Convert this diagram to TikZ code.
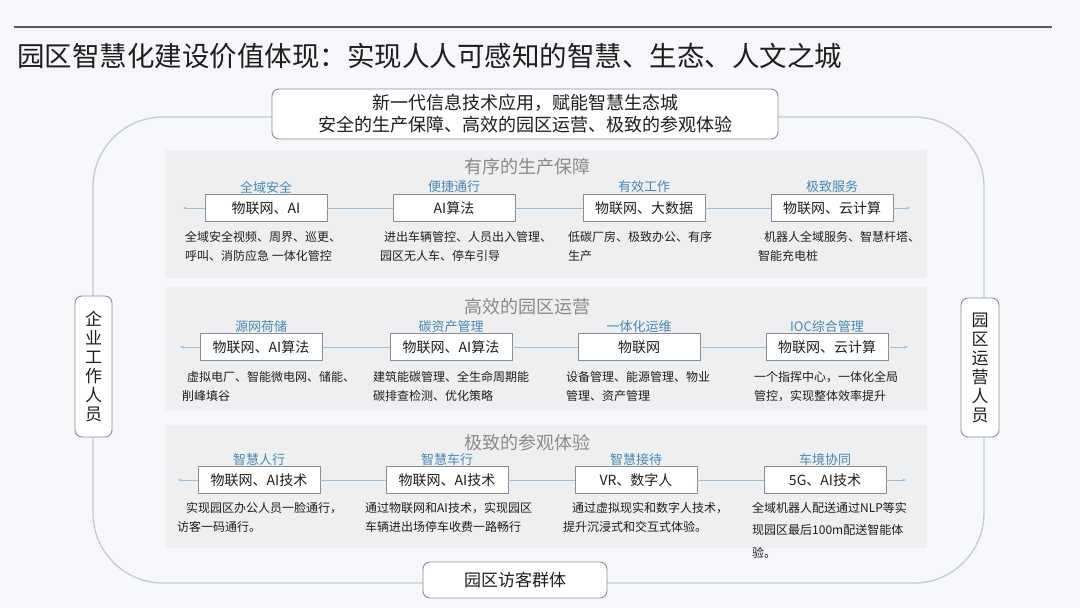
\documentclass[tikz,border=0pt]{standalone}
\usepackage{fontspec}
\setmainfont{Noto Sans CJK SC}
\usetikzlibrary{arrows.meta}
\definecolor{bgc}{HTML}{F6F7FA}
\definecolor{panelc}{HTML}{EEEFF1}
\definecolor{outc}{HTML}{C6CAD0}
\definecolor{boxc}{HTML}{8A8E94}
\definecolor{labc}{HTML}{4A88AE}
\definecolor{ptc}{HTML}{8A8A8A}
\definecolor{arrc}{HTML}{A9BCCD}
\definecolor{txtc}{HTML}{1E1E1E}
\tikzset{
  techbox/.style={draw=boxc, line width=0.8pt, fill=white, minimum width=122pt, minimum height=27pt, inner sep=0pt, font=\fontsize{14}{16}\selectfont, text=txtc},
  catlab/.style={font=\fontsize{13}{15}\selectfont, text=labc, inner sep=0pt},
  ptitle/.style={font=\fontsize{18}{20}\selectfont, text=ptc, inner sep=0pt},
  desc/.style={font=\fontsize{12}{19}\selectfont, text=txtc, align=left, anchor=north west, inner sep=0pt},
  panel/.style={fill=panelc, draw=none},
  arrline/.style={draw=arrc, line width=1pt},
  arrtip/.style={-{Stealth[length=4pt,width=3pt]}},
  rolebox/.style={draw=boxc, line width=0.9pt, fill=white, rounded corners=7pt, inner sep=0pt, text=txtc},
}
\begin{document}
\begin{tikzpicture}[x=1pt,y=-1pt]
\useasboundingbox (0,0) rectangle (1080,608);
\fill[bgc] (0,0) rectangle (1080,608);
% top rule and title
\draw[line width=2.5pt, draw=black!65] (14,27) -- (1052,27);
\node[anchor=west, inner sep=0pt, font=\fontsize{27.5}{30}\selectfont, text=txtc] (title) at (17,56) {园区智慧化建设价值体现：实现人人可感知的智慧、生态、人文之城};
% big outline
\draw[draw=outc, line width=1.3pt, rounded corners=70pt] (93,117) rectangle (984,583);
% panels
\fill[panel] (165,150) rectangle (927,278);
\fill[panel] (165,287) rectangle (927,411);
\fill[panel] (165,425) rectangle (927,548);
% top box
\node[rolebox, minimum width=506pt, minimum height=50pt, align=center, font=\fontsize{18}{22}\selectfont] (top) at (525,114) {新一代信息技术应用，赋能智慧生态城\\安全的生产保障、高效的园区运营、极致的参观体验};
% role boxes
\node[rolebox, minimum width=37pt, minimum height=141pt, align=center, font=\fontsize{17}{19}\selectfont] (left) at (93.5,366.5) {企\\业\\工\\作\\人\\员};
\node[rolebox, minimum width=38pt, minimum height=139pt, align=center, font=\fontsize{17}{19}\selectfont] (right) at (980,367.5) {园\\区\\运\\营\\人\\员};
\node[rolebox, minimum width=184pt, minimum height=36pt, font=\fontsize{17}{19}\selectfont] (bottom) at (515,580) {园区访客群体};
% panel titles
\node[ptitle] (pt1) at (527,167) {有序的生产保障};
\node[ptitle] (pt2) at (527,307) {高效的园区运营};
\node[ptitle] (pt3) at (527,443) {极致的参观体验};
% row 1
\coordinate (l1) at (183,208);
\coordinate (r1) at (910,208);
\node[techbox] (b11) at (266,208) {物联网、AI};
\node[techbox] (b12) at (454,208) {AI算法};
\node[techbox] (b13) at (644,208) {物联网、大数据};
\node[techbox] (b14) at (832,208) {物联网、云计算};
\draw[arrline, arrtip] (b11.west) -- (l1);
\draw[arrline] (b11) -- (b12);
\draw[arrline] (b12) -- (b13);
\draw[arrline] (b13) -- (b14);
\draw[arrline, arrtip] (b14.east) -- (r1);
\node[catlab] (c11) at (266,187) {全域安全};
\node[catlab] (c12) at (454,187) {便捷通行};
\node[catlab] (c13) at (644,187) {有效工作};
\node[catlab] (c14) at (832,187) {极致服务};
\node[desc] (d11) at (185,231) {全域安全视频、周界、巡更、\\呼叫、消防应急 一体化管控};
\node[desc] (d12) at (380,231) {\hspace*{4pt}进出车辆管控、人员出入管理、\\园区无人车、停车引导};
\node[desc] (d13) at (568,231) {低碳厂房、极致办公、有序\\生产};
\node[desc] (d14) at (758,231) {\hspace*{6pt}机器人全域服务、智慧杆塔、\\智能充电桩};
% row 2
\coordinate (l2) at (180,347);
\coordinate (r2) at (908,347);
\node[techbox] (b21) at (261,347) {物联网、AI算法};
\node[techbox] (b22) at (451,347) {物联网、AI算法};
\node[techbox] (b23) at (639,347) {物联网};
\node[techbox] (b24) at (827,347) {物联网、云计算};
\draw[arrline, arrtip] (b21.west) -- (l2);
\draw[arrline] (b21) -- (b22);
\draw[arrline] (b22) -- (b23);
\draw[arrline] (b23) -- (b24);
\draw[arrline, arrtip] (b24.east) -- (r2);
\node[catlab] (c21) at (261,327) {源网荷储};
\node[catlab] (c22) at (451,327) {碳资产管理};
\node[catlab] (c23) at (639,327) {一体化运维};
\node[catlab] (c24) at (827,327) {IOC综合管理};
\node[desc] (d21) at (182,371) {\hspace*{5pt}虚拟电厂、智能微电网、储能、\\削峰填谷};
\node[desc] (d22) at (373,371) {建筑能碳管理、全生命周期能\\碳排查检测、优化策略};
\node[desc] (d23) at (566,371) {设备管理、能源管理、物业\\管理、资产管理};
\node[desc] (d24) at (754,371) {一个指挥中心，一体化全局\\管控，实现整体效率提升};
% row 3
\coordinate (l3) at (178,480);
\coordinate (r3) at (906,480);
\node[techbox] (b31) at (259,480) {物联网、AI技术};
\node[techbox] (b32) at (447,480) {物联网、AI技术};
\node[techbox] (b33) at (636,480) {VR、数字人};
\node[techbox] (b34) at (825,480) {5G、AI技术};
\draw[arrline, arrtip] (b31.west) -- (l3);
\draw[arrline] (b31) -- (b32);
\draw[arrline] (b32) -- (b33);
\draw[arrline] (b33) -- (b34);
\draw[arrline, arrtip] (b34.east) -- (r3);
\node[catlab] (c31) at (259,460) {智慧人行};
\node[catlab] (c32) at (447,460) {智慧车行};
\node[catlab] (c33) at (636,460) {智慧接待};
\node[catlab] (c34) at (825,460) {车境协同};
\node[desc] (d31) at (177,502) {\hspace*{9pt}实现园区办公人员一脸通行，\\访客一码通行。};
\node[desc] (d32) at (365,502) {通过物联网和AI技术，实现园区\\车辆进出场停车收费一路畅行};
\node[desc] (d33) at (563,502) {\hspace*{9pt}通过虚拟现实和数字人技术，\\提升沉浸式和交互式体验。};
\node[desc, font=\fontsize{12}{22.5}\selectfont] (d34) at (752,502) {全域机器人配送通过NLP等实\\现园区最后100m配送智能体\\验。};
\end{tikzpicture}
\end{document}
